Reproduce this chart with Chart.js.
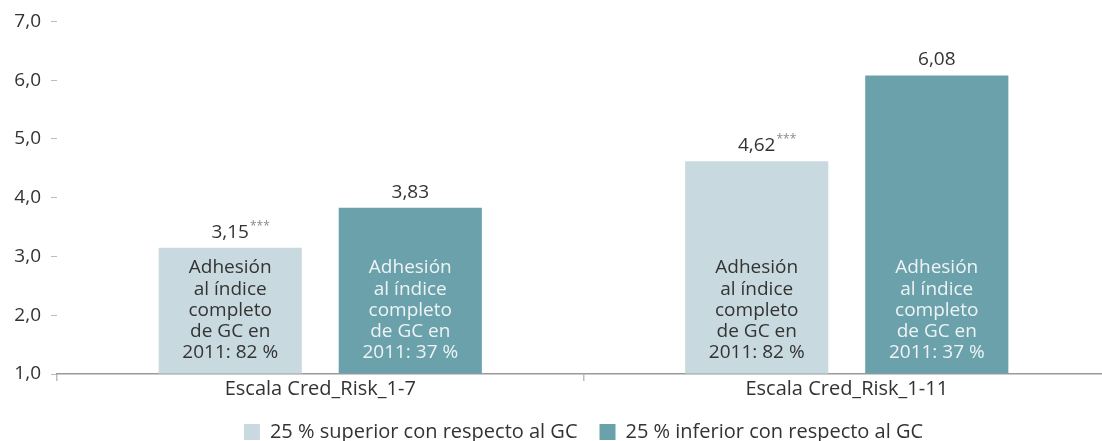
<!DOCTYPE html>
<html lang="es">
<head>
<meta charset="utf-8">
<title>Cred_Risk por cuartil de adhesión</title>
<script src="https://cdn.jsdelivr.net/npm/chart.js@4/dist/chart.umd.min.js"></script>
<style>
  html, body { margin: 0; padding: 0; background: #fff; overflow: hidden; }
  /* the plot runs a few pixels past the right edge of the window */
  #wrap { width: 1102px; height: 441px; overflow: hidden; }
</style>
</head>
<body>
<div id="wrap"><canvas id="credChart" width="1110" height="441"></canvas></div>
<script>
// ---------------------------------------------------------------------------
// Data
// ---------------------------------------------------------------------------
const categories = ['Escala Cred_Risk_1-7', 'Escala Cred_Risk_1-11'];
const seriesNames = ['25 % superior con respecto al GC', '25 % inferior con respecto al GC'];
const topQuartile = [3.15, 4.62];
const bottomQuartile = [3.83, 6.08];
const topMarks = ['***', '***'];
const bottomMarks = ['', ''];
const topNote = ['Adhesión', 'al índice', 'completo', 'de GC en', '2011: 82 %'];
const bottomNote = ['Adhesión', 'al índice', 'completo', 'de GC en', '2011: 37 %'];
const yMin = 1;
const yMax = 7;
const yStep = 1;

// ---------------------------------------------------------------------------
// Styling
// ---------------------------------------------------------------------------
const FONT = '"Open Sans", "DejaVu Sans", sans-serif';
const COLORS = {
    light: '#c8dae0',
    dark: '#6aa1ab',
    text: '#333333',
    noteOnDark: '#eef4f5',
    axis: '#9a9a9a',
    tick: '#bdbdbd',
};

const fmt = (v, d) => v.toFixed(d).replace('.', ',');

// Value labels above bars and notes inside bars, placed from the bar elements
const barTextPlugin = {
    id: 'barText',
    afterDatasetsDraw(chart) {
        const {ctx} = chart;
        const yScale = chart.scales.y;
        const basePx = yScale.getPixelForValue(yMin);
        chart.data.datasets.forEach((ds, di) => {
            const meta = chart.getDatasetMeta(di);
            meta.data.forEach((bar, i) => {
                const value = ds.data[i];
                ctx.save();
                // value on top
                ctx.font = '19px ' + FONT;
                ctx.fillStyle = COLORS.text;
                ctx.textAlign = 'center';
                ctx.textBaseline = 'alphabetic';
                const label = fmt(value, 2);
                ctx.fillText(label, bar.x, bar.y - 10);
                const mark = ds.marks[i];
                if (mark) {
                    const w = ctx.measureText(label).width;
                    ctx.font = '12px ' + FONT;
                    ctx.fillStyle = '#8a8a8a';
                    ctx.textAlign = 'left';
                    ctx.fillText(mark, bar.x + w / 2 + 1, bar.y - 18);
                }
                // note inside bar
                ctx.font = '19px ' + FONT;
                ctx.fillStyle = ds.noteColor;
                ctx.textAlign = 'center';
                ctx.textBaseline = 'middle';
                const lh = 21.3;
                const lines = ds.note;
                lines.forEach((line, k) => {
                    const y = basePx - 21 - (lines.length - 1 - k) * lh;
                    ctx.fillText(line, bar.x, y);
                });
                ctx.restore();
            });
        });
    }
};

const ctx = document.getElementById('credChart').getContext('2d');

new Chart(ctx, {
    type: 'bar',
    data: {
        labels: categories,
        datasets: [
            {
                label: seriesNames[0],
                data: topQuartile,
                backgroundColor: COLORS.light,
                marks: topMarks,
                note: topNote,
                noteColor: COLORS.text,
                base: yMin,
            },
            {
                label: seriesNames[1],
                data: bottomQuartile,
                backgroundColor: COLORS.dark,
                marks: bottomMarks,
                note: bottomNote,
                noteColor: COLORS.noteOnDark,
                base: yMin,
            }
        ]
    },
    options: {
        responsive: false,
        animation: false,
        devicePixelRatio: 1,
        categoryPercentage: 0.684,
        barPercentage: 0.795,
        layout: { padding: { top: 18, right: 0, left: 0, bottom: -11 } },
        plugins: {
            legend: {
                position: 'bottom',
                fullSize: false,
                labels: {
                    font: { family: FONT, size: 20 },
                    color: COLORS.text,
                    boxWidth: 16,
                    boxHeight: 16,
                    padding: 22,
                }
            },
            tooltip: { enabled: false },
        },
        scales: {
            x: {
                grid: {
                    drawOnChartArea: false,
                    drawTicks: true,
                    tickLength: 7,
                    color: COLORS.tick,
                    lineWidth: 1.5,
                },
                border: { display: true, color: COLORS.axis, width: 1.5 },
                ticks: {
                    font: { family: FONT, size: 20 },
                    color: COLORS.text,
                    padding: -4,
                },
                afterFit: (scale) => { scale.height = 26; },
            },
            y: {
                min: yMin,
                max: yMax,
                grid: {
                    drawOnChartArea: false,
                    drawTicks: true,
                    tickLength: 6,
                    color: COLORS.tick,
                },
                border: { display: false },
                ticks: {
                    stepSize: yStep,
                    font: { family: FONT, size: 19 },
                    color: COLORS.text,
                    padding: 10,
                    callback: (v) => fmt(v, 1),
                },
                afterFit: (scale) => { scale.width = 57; },
            }
        }
    },
    plugins: [barTextPlugin]
});
</script>
</body>
</html>
